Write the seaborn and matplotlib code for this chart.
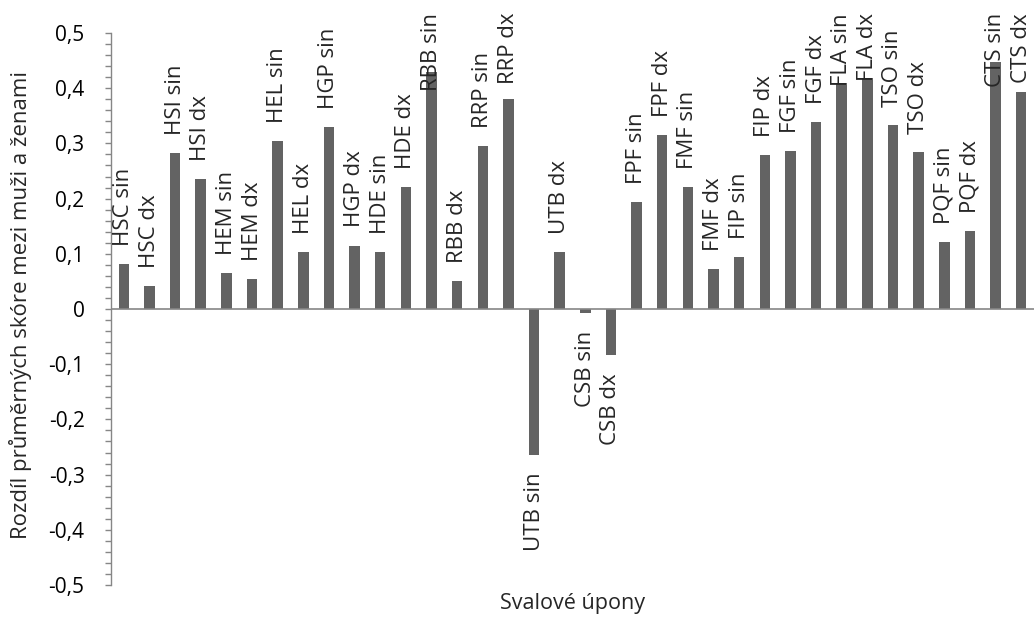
import matplotlib
matplotlib.use("Agg")
import matplotlib.pyplot as plt
import seaborn as sns
import pandas as pd
from matplotlib.ticker import MultipleLocator, FuncFormatter

categories = ["HSC sin", "HSC dx", "HSI sin", "HSI dx", "HEM sin", "HEM dx",
              "HEL sin", "HEL dx", "HGP sin", "HGP dx", "HDE sin", "HDE dx",
              "RBB sin", "RBB dx", "RRP sin", "RRP dx", "UTB sin", "UTB dx",
              "CSB sin", "CSB dx", "FPF sin", "FPF dx", "FMF sin", "FMF dx",
              "FIP sin", "FIP dx", "FGF sin", "FGF dx", "FLA sin", "FLA dx",
              "TSO sin", "TSO dx", "PQF sin", "PQF dx", "CTS sin", "CTS dx"]
values = [0.082, 0.041, 0.283, 0.235, 0.066, 0.054,
          0.305, 0.104, 0.330, 0.115, 0.104, 0.221,
          0.430, 0.051, 0.296, 0.381, -0.264, 0.103,
          -0.007, -0.084, 0.193, 0.315, 0.221, 0.073,
          0.095, 0.279, 0.286, 0.339, 0.409, 0.418,
          0.333, 0.284, 0.121, 0.142, 0.447, 0.393]
y_ticks = [-0.5, -0.4, -0.3, -0.2, -0.1, 0.0, 0.1, 0.2, 0.3, 0.4, 0.5]
x_title = "Svalové úpony"
y_title = "Rozdíl průměrných skóre mezi muži a ženami"

sns.set_theme(style="white")
plt.rcParams['font.family'] = ['Open Sans', 'DejaVu Sans']

W, H, DPI = 1035, 619, 100
fig = plt.figure(figsize=(W / DPI, H / DPI), dpi=DPI)
ax = fig.add_axes([111 / W, 1 - 585 / H, (1034 - 111) / W, (585 - 33) / H])

df = pd.DataFrame({"cat": categories, "val": values})
sns.barplot(data=df, x="cat", y="val", color="#636363", saturation=1,
            width=0.41, ax=ax, errorbar=None)
for p in ax.patches:
    p.set_edgecolor("none")

ax.set_ylim(-0.5, 0.5)
ax.set_xlim(-0.5, len(categories) - 0.5)
ax.set_yticks(y_ticks)
ax.yaxis.set_minor_locator(MultipleLocator(0.02))
ax.yaxis.set_major_formatter(FuncFormatter(
    lambda v, p: "0" if abs(v) < 1e-9 else f"{v:.1f}".replace(".", ",")))
ax.set_xticks([])
ax.tick_params(axis="y", which="major", left=True, length=4, width=1,
               color="#868686", labelsize=15, pad=15, labelcolor="black")
ax.tick_params(axis="y", which="minor", left=True, length=4, width=1,
               color="#868686")
for s in ["top", "right", "bottom"]:
    ax.spines[s].set_visible(False)
ax.spines["left"].set_color("#868686")
ax.spines["left"].set_linewidth(1)
ax.axhline(0, color="#868686", lw=1.2, zorder=3)

ax.set_xlabel("")
ax.set_ylabel("")
fig.text(572 / W, 1 - 603 / H, x_title, ha="center", va="center", fontsize=15.5)
fig.text(21 / W, 1 - 305 / H, y_title, ha="center", va="center",
         rotation=90, fontsize=16)

off = 13
anns = []
for i, (c, v) in enumerate(zip(categories, values)):
    if v >= 0:
        a = ax.annotate(c, xy=(i, v), xytext=(0, off), textcoords="offset points",
                        ha="center", va="bottom", rotation=90, fontsize=16)
    else:
        a = ax.annotate(c, xy=(i, v), xytext=(0, -off), textcoords="offset points",
                        ha="center", va="top", rotation=90, fontsize=16)
    anns.append((a, v))

fig.canvas.draw()
r = fig.canvas.get_renderer()
limit = H - 13
for a, v in anns:
    if v >= 0:
        bb = a.get_window_extent(r)
        if bb.y1 > limit:
            excess = (bb.y1 - limit) * 72 / DPI
            a.xyann = (0, off - excess)

fig.savefig("out.png", dpi=DPI)
